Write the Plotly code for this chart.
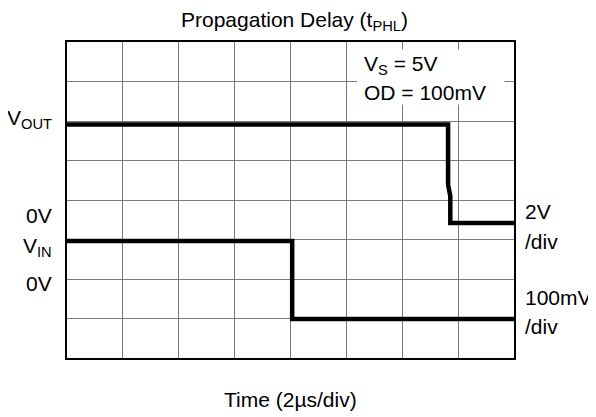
import plotly.graph_objects as go

# Time axis in divisions (2 µs/div), vertical in divisions
vout_t = [0, 6.82, 6.82, 6.86, 6.86, 8]
vout_v = [5.91, 5.91, 4.39, 4.10, 3.42, 3.42]
vin_t = [0, 4.03, 4.03, 8]
vin_v = [2.96, 2.96, 0.99, 0.99]

title_text = "Propagation Delay (t<sub>PHL</sub>)"
xlabel = "Time (2µs/div)"
left_labels = ["V<sub>OUT</sub>", "0V", "V<sub>IN</sub>", "0V"]
left_label_y = [6.04, 3.60, 2.82, 1.88]
right_labels = ["2V", "/div", "100mV", "/div"]
right_label_y = [3.72, 2.96, 1.53, 0.80]
box_lines = ["V<sub>S</sub> = 5V", "OD = 100mV"]
box_line_y = [7.42, 6.72]

FONT = "Liberation Sans, Arial, sans-serif"
FS = 21

fig = go.Figure()
fig.add_trace(go.Scatter(x=vout_t, y=vout_v, mode="lines",
                         line=dict(color="black", width=4.5), hoverinfo="skip"))
fig.add_trace(go.Scatter(x=vin_t, y=vin_v, mode="lines",
                         line=dict(color="black", width=4.5), hoverinfo="skip"))

fig.add_shape(type="rect", x0=5.19, x1=7.83, y0=6.42, y1=7.81,
              fillcolor="white", line=dict(width=0), layer="above")

ann = []
for t, y in zip(left_labels, left_label_y):
    ann.append(dict(x=0, y=y, xref="x", yref="y", text=t, showarrow=False,
                    xanchor="right", yanchor="middle", xshift=-13,
                    font=dict(family=FONT, size=FS, color="black")))
for t, y in zip(right_labels, right_label_y):
    ann.append(dict(x=8, y=y, xref="x", yref="y", text=t, showarrow=False,
                    xanchor="left", yanchor="middle", xshift=9,
                    font=dict(family=FONT, size=FS, color="black")))
for t, y in zip(box_lines, box_line_y):
    ann.append(dict(x=5.19, y=y, xref="x", yref="y", text=t, showarrow=False,
                    xanchor="left", yanchor="middle", xshift=5,
                    font=dict(family=FONT, size=FS, color="black")))
ann.append(dict(x=0.5, y=-0.13, xref="paper", yref="paper", text=xlabel,
                showarrow=False, xanchor="center", yanchor="middle",
                font=dict(family=FONT, size=FS, color="black")))
ann.append(dict(x=0.51, y=1.068, xref="paper", yref="paper", text=title_text,
                showarrow=False, xanchor="center", yanchor="middle",
                font=dict(family=FONT, size=FS, color="black")))

axis = dict(range=[0, 8], dtick=1, tick0=0, showticklabels=False, ticks="",
            showgrid=True, gridcolor="#7a7a7a", gridwidth=1, zeroline=False,
            showline=True, linecolor="black", linewidth=2, mirror=True,
            fixedrange=True)

# page body has an 8px default margin, so the figure is offset by 8px
fig.update_layout(
    width=588, height=409,
    margin=dict(l=59, r=82, t=34, b=59),
    paper_bgcolor="white", plot_bgcolor="white",
    showlegend=False,
    xaxis=axis, yaxis=axis,
    annotations=ann,
    font=dict(family=FONT, size=FS, color="black"),
)

fig.write_html("out.html", config={"displayModeBar": False})
